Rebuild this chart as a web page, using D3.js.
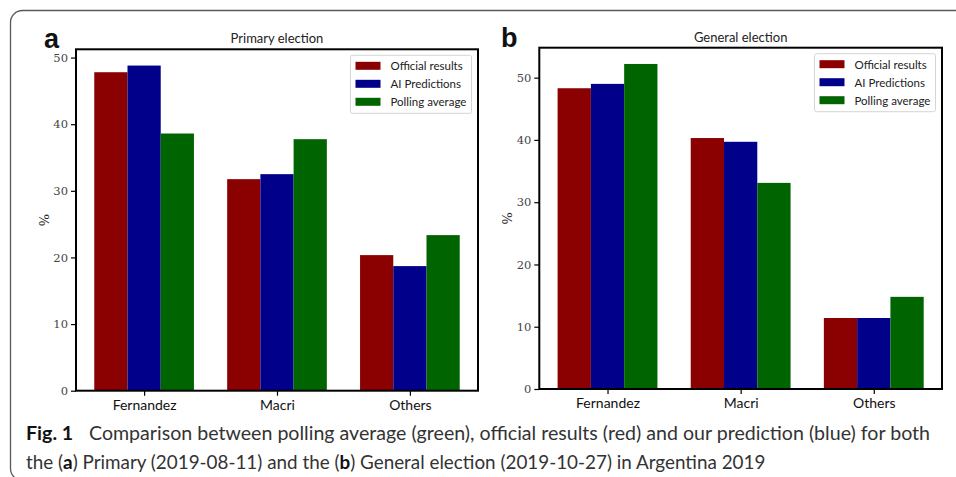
<!DOCTYPE html>
<html>
<head>
<meta charset="utf-8">
<script src="https://cdn.jsdelivr.net/npm/d3@7"></script>
<style>
  html, body { margin: 0; padding: 0; background: #fff; }
  svg { display: block; }
</style>
</head>
<body>
<svg id="fig" width="956" height="477"></svg>
<script>
// Candidates on the x axis
const categories = ["Fernandez", "Macri", "Others"];
// Series names shown in the legend
const seriesNames = ["Official results", "AI Predictions", "Polling average"];
const seriesColors = ["#8b0000", "#00008b", "#006400"];

// Primary election (2019-08-11), percent of votes
const primaryOfficial = [47.8, 31.75, 20.35];
const primaryAI       = [48.8, 32.5, 18.7];
const primaryPolling  = [38.6, 37.75, 23.35];

// General election (2019-10-27), percent of votes
const generalOfficial = [48.3, 40.3, 11.4];
const generalAI       = [49.0, 39.7, 11.4];
const generalPolling  = [52.2, 33.1, 14.8];

const yTicks = [0, 10, 20, 30, 40, 50];

const svg = d3.select("#fig");

// rounded frame around the figure
svg.append("rect")
  .attr("x", 10.5).attr("y", 10.5)
  .attr("width", 1000).attr("height", 470)
  .attr("rx", 12).attr("ry", 12)
  .attr("fill", "none").attr("stroke", "#5a5a5a").attr("stroke-width", 1.3);

function panel(opts) {
  const { left, right, top, bottom, title, letter, letterX, series } = opts;
  const g = svg.append("g");
  const maxV = d3.max(series.flat());
  const y = d3.scaleLinear().domain([0, maxV * 1.05]).range([bottom, top]);
  const barW = 0.25;
  const lo = -1.5 * barW, hi = categories.length - 1 + 1.5 * barW;
  const pad = (hi - lo) * 0.05;
  const x = d3.scaleLinear().domain([lo - pad, hi + pad]).range([left, right]);

  // bars
  series.forEach((vals, si) => {
    g.append("g").selectAll("rect")
      .data(vals)
      .join("rect")
      .attr("x", (d, i) => x(i + (si - 1) * barW - barW / 2))
      .attr("width", (d, i) => x(i + (si - 1) * barW + barW / 2) - x(i + (si - 1) * barW - barW / 2))
      .attr("y", d => y(d))
      .attr("height", d => y(0) - y(d))
      .attr("fill", seriesColors[si]);
  });

  // y axis
  const yAxis = d3.axisLeft(y).tickValues(yTicks).tickSize(5).tickPadding(3).tickFormat(d3.format("d"));
  const ya = g.append("g").attr("transform", `translate(${left},0)`).call(yAxis);
  ya.select(".domain").remove();
  ya.selectAll(".tick line").attr("stroke", "#000").attr("stroke-width", 1.2);
  ya.selectAll(".tick text")
    .attr("font-family", "DejaVu Serif").attr("font-size", 11.5).attr("fill", "#444");

  // x axis
  const xAxis = d3.axisBottom(x).tickValues(categories.map((c, i) => i))
    .tickFormat(i => categories[i]).tickSize(5).tickPadding(4);
  const xa = g.append("g").attr("transform", `translate(0,${bottom})`).call(xAxis);
  xa.select(".domain").remove();
  xa.selectAll(".tick line").attr("stroke", "#000").attr("stroke-width", 1.2);
  xa.selectAll(".tick text")
    .attr("font-family", "Lato").attr("font-size", 14).attr("fill", "#111");

  // frame
  g.append("rect")
    .attr("x", left).attr("y", top)
    .attr("width", right - left).attr("height", bottom - top)
    .attr("fill", "none").attr("stroke", "#000").attr("stroke-width", 2);

  // y label
  g.append("text")
    .attr("transform", `translate(${left - 31},${(top + bottom) / 2}) rotate(-90)`)
    .attr("text-anchor", "middle").attr("dominant-baseline", "middle")
    .attr("font-family", "DejaVu Serif").attr("font-size", 13).attr("fill", "#222")
    .text("%");

  // title
  g.append("text")
    .attr("x", (left + right) / 2).attr("y", top - 6)
    .attr("text-anchor", "middle")
    .attr("font-family", "Lato").attr("font-size", 13).attr("fill", "#222")
    .text(title);

  // panel letter
  g.append("text")
    .attr("x", letterX).attr("y", top - 1)
    .attr("font-family", "Liberation Sans, Arial, sans-serif").attr("font-weight", "bold")
    .attr("font-size", 27).attr("fill", "#111")
    .text(letter);

  // legend
  const lgW = 121, lgH = 58;
  const lgX = right - 6.5 - lgW, lgY = top + 6;
  const lg = g.append("g").attr("transform", `translate(${lgX},${lgY})`);
  lg.append("rect").attr("width", lgW).attr("height", lgH).attr("rx", 2)
    .attr("fill", "#fff").attr("fill-opacity", 0.85)
    .attr("stroke", "#d5d5d5").attr("stroke-width", 1);
  seriesNames.forEach((name, i) => {
    const cy = 10.5 + i * 18;
    lg.append("rect").attr("x", 5).attr("y", cy - 4).attr("width", 25).attr("height", 8)
      .attr("fill", seriesColors[i]);
    lg.append("text").attr("x", 40).attr("y", cy).attr("dominant-baseline", "central")
      .attr("font-family", "Lato").attr("font-size", 11.5).attr("fill", "#222")
      .text(name);
  });
}

panel({
  left: 76, right: 478, top: 49.3, bottom: 390.7,
  title: "Primary election", letter: "a", letterX: 44,
  series: [primaryOfficial, primaryAI, primaryPolling]
});
panel({
  left: 539.3, right: 942, top: 47.7, bottom: 389,
  title: "General election", letter: "b", letterX: 501,
  series: [generalOfficial, generalAI, generalPolling]
});

// caption
const cap = svg.append("g").attr("font-family", "Lato").attr("fill", "#333");
const line1 = cap.append("text").attr("x", 26).attr("y", 440).attr("font-size", 19.6);
line1.append("tspan").attr("font-weight", "bold").attr("fill", "#111").text("Fig. 1");
line1.append("tspan").attr("x", 89)
  .text("Comparison between polling average (green), official results (red) and our prediction (blue) for both");
const line2 = cap.append("text").attr("x", 26).attr("y", 469).attr("font-size", 18.85);
line2.append("tspan").text("the (");
line2.append("tspan").attr("font-weight", "bold").attr("fill", "#111").text("a");
line2.append("tspan").text(") Primary (2019-08-11) and the (");
line2.append("tspan").attr("font-weight", "bold").attr("fill", "#111").text("b");
line2.append("tspan").text(") General election (2019-10-27) in Argentina 2019");
</script>
</body>
</html>
